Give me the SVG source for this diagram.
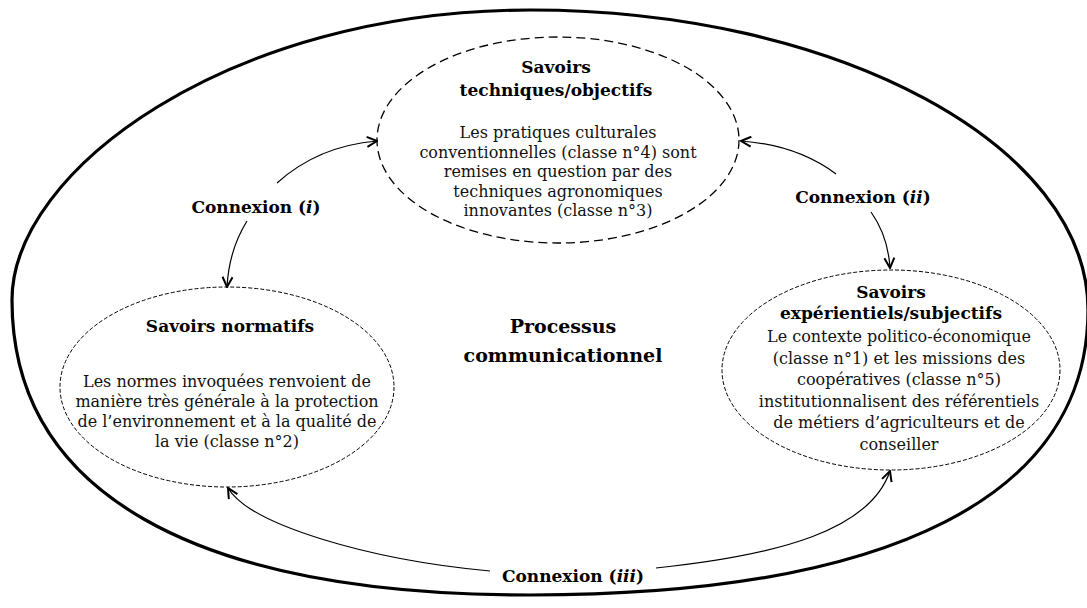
<svg xmlns="http://www.w3.org/2000/svg" width="1087" height="608" viewBox="0 0 1087 608">
<style>
.outer{fill:none;stroke:#000;stroke-width:3.2}
.big{fill:none;stroke:#000;stroke-width:1.3;stroke-dasharray:9 5}
.small{fill:none;stroke:#000;stroke-width:1;stroke-dasharray:4 2}
.conn{fill:none;stroke:#000;stroke-width:1.2}
.t{font-family:"DejaVu Serif",serif;font-size:16px;fill:#111;text-anchor:middle}
.b{font-family:"DejaVu Serif",serif;font-size:17px;font-weight:bold;fill:#000;text-anchor:middle}
.p{font-family:"DejaVu Serif",serif;font-size:19px;font-weight:bold;fill:#000;text-anchor:middle}
</style>
<defs>
<marker id="ah" viewBox="0 0 12 12" refX="11" refY="6" markerWidth="12" markerHeight="12" markerUnits="userSpaceOnUse" orient="auto">
<path d="M1,1 L11,6 L1,11" fill="none" stroke="#000" stroke-width="2"/>
</marker>
</defs>
<rect width="1087" height="608" fill="#fff"/>
<g id="outer">
<path class="outer" d="M12,300 C12,170 230,10 530,10 C837,10 1088,145 1088,310 C1088,495 893,595 530,595 C193,595 12,492 12,300 Z"/>
</g>
<g id="node-techniques">
<ellipse class="big" cx="558" cy="140" rx="181" ry="103"/>
<text class="b" x="556" y="73">Savoirs</text>
<text class="b" x="556" y="96">techniques/objectifs</text>
<text class="t" x="558" y="138">Les pratiques culturales</text>
<text class="t" x="558" y="158">conventionnelles (classe n°4) sont</text>
<text class="t" x="558" y="177">remises en question par des</text>
<text class="t" x="558" y="197">techniques agronomiques</text>
<text class="t" x="558" y="216">innovantes (classe n°3)</text>
</g>
<g id="node-normatifs">
<ellipse class="small" cx="227" cy="387" rx="167" ry="100"/>
<text class="b" x="230" y="332">Savoirs normatifs</text>
<text class="t" x="227" y="387">Les normes invoquées renvoient de</text>
<text class="t" x="227" y="407">manière très générale à la protection</text>
<text class="t" x="227" y="427">de l’environnement et à la qualité de</text>
<text class="t" x="227" y="447">la vie (classe n°2)</text>
</g>
<g id="node-experientiels">
<ellipse class="small" cx="891" cy="370" rx="169" ry="100"/>
<text class="b" x="891" y="298">Savoirs</text>
<text class="b" x="891" y="319">expérientiels/subjectifs</text>
<text class="t" x="899" y="342">Le contexte politico-économique</text>
<text class="t" x="899" y="363.5">(classe n°1) et les missions des</text>
<text class="t" x="899" y="385">coopératives (classe n°5)</text>
<text class="t" x="899" y="406.5">institutionnalisent des référentiels</text>
<text class="t" x="899" y="428">de métiers d’agriculteurs et de</text>
<text class="t" x="899" y="449.5">conseiller</text>
</g>
<g id="center-label">
<text class="p" x="563" y="333">Processus</text>
<text class="p" x="563" y="362">communicationnel</text>
</g>
<g id="connectors">
<path class="conn" marker-end="url(#ah)" d="M277,183 Q318,146 377,141"/>
<path class="conn" marker-end="url(#ah)" d="M247,221 Q229,250 227,287"/>
<path class="conn" marker-end="url(#ah)" d="M836,174 Q797,145 741,141"/>
<path class="conn" marker-end="url(#ah)" d="M871,212 Q888,236 890,268"/>
<path class="conn" marker-end="url(#ah)" d="M490,571 C370,560 250,525 228,488"/>
<path class="conn" marker-end="url(#ah)" d="M656,568 C780,555 870,530 890,471"/>
</g>
<g id="connection-labels">
<text class="b" x="256" y="213">Connexion (<tspan font-style="italic">i</tspan>)</text>
<text class="b" x="863" y="203">Connexion (<tspan font-style="italic">ii</tspan>)</text>
<text class="b" x="573" y="582">Connexion (<tspan font-style="italic">iii</tspan>)</text>
</g>
</svg>
